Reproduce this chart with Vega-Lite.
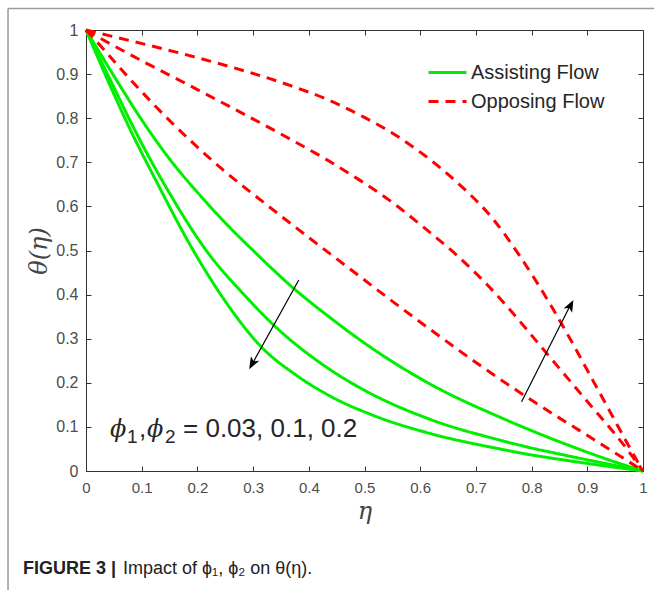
{
  "$schema": "https://vega.github.io/schema/vega-lite/v6.json",
  "autosize": {"type": "none"},
  "padding": {"left": 86, "top": 30, "right": 11, "bottom": 119},
  "width": 557,
  "height": 441,
  "background": "white",
  "config": {
    "view": {"stroke": null},
    "font": "Liberation Sans"
  },
  "datasets": {
    "curves": [
      {"flow": "Assisting Flow", "phi": "0.03", "eta": 0, "theta": 1},
      {"flow": "Assisting Flow", "phi": "0.03", "eta": 0.05, "theta": 0.896},
      {"flow": "Assisting Flow", "phi": "0.03", "eta": 0.106, "theta": 0.785},
      {"flow": "Assisting Flow", "phi": "0.03", "eta": 0.159, "theta": 0.693},
      {"flow": "Assisting Flow", "phi": "0.03", "eta": 0.205, "theta": 0.625},
      {"flow": "Assisting Flow", "phi": "0.03", "eta": 0.252, "theta": 0.56},
      {"flow": "Assisting Flow", "phi": "0.03", "eta": 0.3, "theta": 0.5},
      {"flow": "Assisting Flow", "phi": "0.03", "eta": 0.372, "theta": 0.415},
      {"flow": "Assisting Flow", "phi": "0.03", "eta": 0.438, "theta": 0.348},
      {"flow": "Assisting Flow", "phi": "0.03", "eta": 0.5, "theta": 0.29},
      {"flow": "Assisting Flow", "phi": "0.03", "eta": 0.618, "theta": 0.197},
      {"flow": "Assisting Flow", "phi": "0.03", "eta": 0.743, "theta": 0.122},
      {"flow": "Assisting Flow", "phi": "0.03", "eta": 0.797, "theta": 0.093},
      {"flow": "Assisting Flow", "phi": "0.03", "eta": 0.863, "theta": 0.06},
      {"flow": "Assisting Flow", "phi": "0.03", "eta": 0.93, "theta": 0.029},
      {"flow": "Assisting Flow", "phi": "0.03", "eta": 1, "theta": 0},
      {"flow": "Assisting Flow", "phi": "0.1", "eta": 0, "theta": 1},
      {"flow": "Assisting Flow", "phi": "0.1", "eta": 0.05, "theta": 0.87},
      {"flow": "Assisting Flow", "phi": "0.1", "eta": 0.088, "theta": 0.772},
      {"flow": "Assisting Flow", "phi": "0.1", "eta": 0.143, "theta": 0.645},
      {"flow": "Assisting Flow", "phi": "0.1", "eta": 0.223, "theta": 0.488},
      {"flow": "Assisting Flow", "phi": "0.1", "eta": 0.28, "theta": 0.405},
      {"flow": "Assisting Flow", "phi": "0.1", "eta": 0.336, "theta": 0.332},
      {"flow": "Assisting Flow", "phi": "0.1", "eta": 0.438, "theta": 0.23},
      {"flow": "Assisting Flow", "phi": "0.1", "eta": 0.5, "theta": 0.183},
      {"flow": "Assisting Flow", "phi": "0.1", "eta": 0.618, "theta": 0.117},
      {"flow": "Assisting Flow", "phi": "0.1", "eta": 0.743, "theta": 0.07},
      {"flow": "Assisting Flow", "phi": "0.1", "eta": 0.797, "theta": 0.053},
      {"flow": "Assisting Flow", "phi": "0.1", "eta": 0.863, "theta": 0.035},
      {"flow": "Assisting Flow", "phi": "0.1", "eta": 1, "theta": 0},
      {"flow": "Assisting Flow", "phi": "0.2", "eta": 0, "theta": 1},
      {"flow": "Assisting Flow", "phi": "0.2", "eta": 0.05, "theta": 0.855},
      {"flow": "Assisting Flow", "phi": "0.2", "eta": 0.078, "theta": 0.778},
      {"flow": "Assisting Flow", "phi": "0.2", "eta": 0.125, "theta": 0.66},
      {"flow": "Assisting Flow", "phi": "0.2", "eta": 0.189, "theta": 0.508},
      {"flow": "Assisting Flow", "phi": "0.2", "eta": 0.25, "theta": 0.385},
      {"flow": "Assisting Flow", "phi": "0.2", "eta": 0.312, "theta": 0.285},
      {"flow": "Assisting Flow", "phi": "0.2", "eta": 0.38, "theta": 0.215},
      {"flow": "Assisting Flow", "phi": "0.2", "eta": 0.438, "theta": 0.17},
      {"flow": "Assisting Flow", "phi": "0.2", "eta": 0.52, "theta": 0.124},
      {"flow": "Assisting Flow", "phi": "0.2", "eta": 0.618, "theta": 0.085},
      {"flow": "Assisting Flow", "phi": "0.2", "eta": 0.743, "theta": 0.05},
      {"flow": "Assisting Flow", "phi": "0.2", "eta": 0.797, "theta": 0.037},
      {"flow": "Assisting Flow", "phi": "0.2", "eta": 0.863, "theta": 0.024},
      {"flow": "Assisting Flow", "phi": "0.2", "eta": 1, "theta": 0},
      {"flow": "Opposing Flow", "phi": "0.2", "eta": 0, "theta": 1},
      {"flow": "Opposing Flow", "phi": "0.2", "eta": 0.036, "theta": 0.989},
      {"flow": "Opposing Flow", "phi": "0.2", "eta": 0.114, "theta": 0.965},
      {"flow": "Opposing Flow", "phi": "0.2", "eta": 0.221, "theta": 0.93},
      {"flow": "Opposing Flow", "phi": "0.2", "eta": 0.36, "theta": 0.877},
      {"flow": "Opposing Flow", "phi": "0.2", "eta": 0.432, "theta": 0.843},
      {"flow": "Opposing Flow", "phi": "0.2", "eta": 0.498, "theta": 0.803},
      {"flow": "Opposing Flow", "phi": "0.2", "eta": 0.564, "theta": 0.755},
      {"flow": "Opposing Flow", "phi": "0.2", "eta": 0.6, "theta": 0.723},
      {"flow": "Opposing Flow", "phi": "0.2", "eta": 0.671, "theta": 0.649},
      {"flow": "Opposing Flow", "phi": "0.2", "eta": 0.731, "theta": 0.571},
      {"flow": "Opposing Flow", "phi": "0.2", "eta": 0.779, "theta": 0.487},
      {"flow": "Opposing Flow", "phi": "0.2", "eta": 0.833, "theta": 0.379},
      {"flow": "Opposing Flow", "phi": "0.2", "eta": 0.869, "theta": 0.3},
      {"flow": "Opposing Flow", "phi": "0.2", "eta": 0.905, "theta": 0.217},
      {"flow": "Opposing Flow", "phi": "0.2", "eta": 0.941, "theta": 0.134},
      {"flow": "Opposing Flow", "phi": "0.2", "eta": 0.977, "theta": 0.051},
      {"flow": "Opposing Flow", "phi": "0.2", "eta": 1, "theta": 0},
      {"flow": "Opposing Flow", "phi": "0.1", "eta": 0, "theta": 1},
      {"flow": "Opposing Flow", "phi": "0.1", "eta": 0.036, "theta": 0.974},
      {"flow": "Opposing Flow", "phi": "0.1", "eta": 0.108, "theta": 0.925},
      {"flow": "Opposing Flow", "phi": "0.1", "eta": 0.174, "theta": 0.882},
      {"flow": "Opposing Flow", "phi": "0.1", "eta": 0.239, "theta": 0.839},
      {"flow": "Opposing Flow", "phi": "0.1", "eta": 0.366, "theta": 0.753},
      {"flow": "Opposing Flow", "phi": "0.1", "eta": 0.432, "theta": 0.706},
      {"flow": "Opposing Flow", "phi": "0.1", "eta": 0.492, "theta": 0.659},
      {"flow": "Opposing Flow", "phi": "0.1", "eta": 0.552, "theta": 0.607},
      {"flow": "Opposing Flow", "phi": "0.1", "eta": 0.6, "theta": 0.559},
      {"flow": "Opposing Flow", "phi": "0.1", "eta": 0.665, "theta": 0.49},
      {"flow": "Opposing Flow", "phi": "0.1", "eta": 0.719, "theta": 0.424},
      {"flow": "Opposing Flow", "phi": "0.1", "eta": 0.767, "theta": 0.357},
      {"flow": "Opposing Flow", "phi": "0.1", "eta": 0.803, "theta": 0.303},
      {"flow": "Opposing Flow", "phi": "0.1", "eta": 0.833, "theta": 0.258},
      {"flow": "Opposing Flow", "phi": "0.1", "eta": 0.893, "theta": 0.168},
      {"flow": "Opposing Flow", "phi": "0.1", "eta": 0.971, "theta": 0.05},
      {"flow": "Opposing Flow", "phi": "0.1", "eta": 1, "theta": 0},
      {"flow": "Opposing Flow", "phi": "0.03", "eta": 0, "theta": 1},
      {"flow": "Opposing Flow", "phi": "0.03", "eta": 0.024, "theta": 0.967},
      {"flow": "Opposing Flow", "phi": "0.03", "eta": 0.078, "theta": 0.89},
      {"flow": "Opposing Flow", "phi": "0.03", "eta": 0.138, "theta": 0.81},
      {"flow": "Opposing Flow", "phi": "0.03", "eta": 0.191, "theta": 0.745},
      {"flow": "Opposing Flow", "phi": "0.03", "eta": 0.243, "theta": 0.686},
      {"flow": "Opposing Flow", "phi": "0.03", "eta": 0.324, "theta": 0.604},
      {"flow": "Opposing Flow", "phi": "0.03", "eta": 0.474, "theta": 0.458},
      {"flow": "Opposing Flow", "phi": "0.03", "eta": 0.552, "theta": 0.383},
      {"flow": "Opposing Flow", "phi": "0.03", "eta": 0.618, "theta": 0.321},
      {"flow": "Opposing Flow", "phi": "0.03", "eta": 0.689, "theta": 0.256},
      {"flow": "Opposing Flow", "phi": "0.03", "eta": 0.773, "theta": 0.183},
      {"flow": "Opposing Flow", "phi": "0.03", "eta": 0.803, "theta": 0.158},
      {"flow": "Opposing Flow", "phi": "0.03", "eta": 0.911, "theta": 0.072},
      {"flow": "Opposing Flow", "phi": "0.03", "eta": 0.971, "theta": 0.024},
      {"flow": "Opposing Flow", "phi": "0.03", "eta": 1, "theta": 0}
    ],
    "one": [{}]
  },
  "data": {"name": "curves"},
  "resolve": {"axis": {"x": "independent", "y": "independent"}},
  "layer": [
    {
      "mark": {"type": "line", "strokeWidth": 3, "interpolate": "monotone"},
      "encoding": {
        "x": {
          "field": "eta", "type": "quantitative",
          "scale": {"domain": [0, 1], "nice": false, "zero": false},
          "axis": {
            "orient": "bottom", "values": [0, 0.1, 0.2, 0.3, 0.4, 0.5, 0.6, 0.7, 0.8, 0.9, 1],
            "format": "~g", "grid": false, "tickSize": -5, "labelPadding": 14,
            "labelFontSize": 15, "labelColor": "#4d4d4d", "tickColor": "#333333",
            "domainColor": "#333333", "labelFlush": false,
            "title": "η", "titleFont": "DejaVu Serif", "titleFontStyle": "italic",
            "titleFontWeight": "normal", "titleFontSize": 24, "titleColor": "#444444", "titlePadding": 4
          }
        },
        "y": {
          "field": "theta", "type": "quantitative",
          "scale": {"domain": [0, 1], "nice": false, "zero": false},
          "axis": {
            "orient": "left", "values": [0, 0.1, 0.2, 0.3, 0.4, 0.5, 0.6, 0.7, 0.8, 0.9, 1],
            "format": "~g", "grid": false, "tickSize": -5, "labelPadding": 13,
            "labelFontSize": 16, "labelColor": "#4d4d4d", "tickColor": "#333333",
            "domainColor": "#333333", "labelFlush": false,
            "title": "θ(η)", "titleFont": "DejaVu Serif", "titleFontStyle": "italic",
            "titleFontWeight": "normal", "titleFontSize": 24, "titleColor": "#444444", "titlePadding": 4
          }
        },
        "color": {
          "field": "flow", "type": "nominal",
          "scale": {"domain": ["Assisting Flow", "Opposing Flow"], "range": ["#00ee00", "#ff0000"]},
          "legend": {
            "orient": "none", "legendX": 350.5, "legendY": 31.5, "title": null,
            "symbolType": "M-2,0H2", "symbolSize": 361, "symbolStrokeWidth": 3,
            "labelFontSize": 20, "labelColor": "#262626", "labelOffset": 12.5,
            "rowPadding": 8, "padding": 0
          }
        },
        "strokeDash": {
          "field": "flow", "type": "nominal",
          "scale": {"domain": ["Assisting Flow", "Opposing Flow"], "range": [[1, 0], [10, 7]]},
          "legend": {
            "orient": "none", "legendX": 350.5, "legendY": 31.5, "title": null,
            "symbolType": "M-2,0H2", "symbolSize": 361, "symbolStrokeWidth": 3,
            "labelFontSize": 20, "labelColor": "#262626", "labelOffset": 12.5,
            "rowPadding": 8, "padding": 0
          }
        },
        "detail": {"field": "phi", "type": "nominal"},
        "order": {"field": "eta", "type": "quantitative"}
      }
    },
    {
      "mark": {"type": "point", "opacity": 0},
      "encoding": {
        "x": {
          "field": "eta", "type": "quantitative",
          "scale": {"domain": [0, 1], "nice": false, "zero": false},
          "axis": {
            "orient": "top", "values": [0, 0.1, 0.2, 0.3, 0.4, 0.5, 0.6, 0.7, 0.8, 0.9, 1],
            "labels": false, "grid": false, "tickSize": -5, "title": null,
            "tickColor": "#333333", "domainColor": "#333333"
          }
        },
        "y": {
          "field": "theta", "type": "quantitative",
          "scale": {"domain": [0, 1], "nice": false, "zero": false},
          "axis": {
            "orient": "right", "values": [0, 0.1, 0.2, 0.3, 0.4, 0.5, 0.6, 0.7, 0.8, 0.9, 1],
            "labels": false, "grid": false, "tickSize": -5, "title": null,
            "tickColor": "#333333", "domainColor": "#333333"
          }
        }
      }
    },
    {
      "data": {"name": "one"},
      "mark": {"type": "rule", "color": "black", "strokeWidth": 1.2},
      "encoding": {
        "x": {"datum": 0.382, "type": "quantitative", "scale": {"domain": [0, 1]}, "axis": null},
        "y": {"datum": 0.433, "type": "quantitative", "scale": {"domain": [0, 1]}, "axis": null},
        "x2": {"datum": 0.296},
        "y2": {"datum": 0.237}
      }
    },
    {
      "data": {"name": "one"},
      "mark": {"type": "rule", "color": "black", "strokeWidth": 1.2},
      "encoding": {
        "x": {"datum": 0.782, "type": "quantitative", "scale": {"domain": [0, 1]}, "axis": null},
        "y": {"datum": 0.157, "type": "quantitative", "scale": {"domain": [0, 1]}, "axis": null},
        "x2": {"datum": 0.872},
        "y2": {"datum": 0.382}
      }
    },
    {
      "data": {"name": "one"},
      "mark": {"type": "point", "shape": "M0,0L-0.55,1.4L0,1.05L0.55,1.4Z", "filled": true, "color": "black", "opacity": 1, "size": 300, "angle": 209.2},
      "encoding": {
        "x": {"datum": 0.293, "type": "quantitative", "scale": {"domain": [0, 1]}, "axis": null},
        "y": {"datum": 0.231, "type": "quantitative", "scale": {"domain": [0, 1]}, "axis": null}
      }
    },
    {
      "data": {"name": "one"},
      "mark": {"type": "point", "shape": "M0,0L-0.55,1.4L0,1.05L0.55,1.4Z", "filled": true, "color": "black", "opacity": 1, "size": 300, "angle": 26.9},
      "encoding": {
        "x": {"datum": 0.875, "type": "quantitative", "scale": {"domain": [0, 1]}, "axis": null},
        "y": {"datum": 0.388, "type": "quantitative", "scale": {"domain": [0, 1]}, "axis": null}
      }
    },
    {
      "data": {"name": "one"},
      "mark": {"type": "text", "text": "ϕ", "font": "DejaVu Serif", "fontStyle": "italic", "fontSize": 24, "align": "left", "baseline": "alphabetic", "color": "#262626"},
      "encoding": {
        "x": {"datum": 0.0431, "type": "quantitative", "scale": {"domain": [0, 1]}, "axis": null},
        "y": {"datum": 0.0771, "type": "quantitative", "scale": {"domain": [0, 1]}, "axis": null}
      }
    },
    {
      "data": {"name": "one"},
      "mark": {"type": "text", "text": "1", "fontSize": 19, "align": "left", "baseline": "alphabetic", "color": "#262626"},
      "encoding": {
        "x": {"datum": 0.0736, "type": "quantitative", "scale": {"domain": [0, 1]}, "axis": null},
        "y": {"datum": 0.0635, "type": "quantitative", "scale": {"domain": [0, 1]}, "axis": null}
      }
    },
    {
      "data": {"name": "one"},
      "mark": {"type": "text", "text": ",", "fontSize": 26, "align": "left", "baseline": "alphabetic", "color": "#262626"},
      "encoding": {
        "x": {"datum": 0.0952, "type": "quantitative", "scale": {"domain": [0, 1]}, "axis": null},
        "y": {"datum": 0.0771, "type": "quantitative", "scale": {"domain": [0, 1]}, "axis": null}
      }
    },
    {
      "data": {"name": "one"},
      "mark": {"type": "text", "text": "ϕ", "font": "DejaVu Serif", "fontStyle": "italic", "fontSize": 24, "align": "left", "baseline": "alphabetic", "color": "#262626"},
      "encoding": {
        "x": {"datum": 0.1095, "type": "quantitative", "scale": {"domain": [0, 1]}, "axis": null},
        "y": {"datum": 0.0771, "type": "quantitative", "scale": {"domain": [0, 1]}, "axis": null}
      }
    },
    {
      "data": {"name": "one"},
      "mark": {"type": "text", "text": "2", "fontSize": 19, "align": "left", "baseline": "alphabetic", "color": "#262626"},
      "encoding": {
        "x": {"datum": 0.1418, "type": "quantitative", "scale": {"domain": [0, 1]}, "axis": null},
        "y": {"datum": 0.0635, "type": "quantitative", "scale": {"domain": [0, 1]}, "axis": null}
      }
    },
    {
      "data": {"name": "one"},
      "mark": {"type": "text", "text": "= 0.03, 0.1, 0.2", "fontSize": 26, "align": "left", "baseline": "alphabetic", "color": "#262626"},
      "encoding": {
        "x": {"datum": 0.1742, "type": "quantitative", "scale": {"domain": [0, 1]}, "axis": null},
        "y": {"datum": 0.0771, "type": "quantitative", "scale": {"domain": [0, 1]}, "axis": null}
      }
    },
    {
      "data": {"name": "one"},
      "mark": {"type": "rule", "color": "#9a9a9a", "strokeWidth": 1.5},
      "encoding": {
        "x": {"datum": -0.14, "type": "quantitative", "scale": {"domain": [0, 1]}, "axis": null},
        "y": {"datum": 1.0488, "type": "quantitative", "scale": {"domain": [0, 1]}, "axis": null},
        "x2": {"datum": 1.05}
      }
    },
    {
      "data": {"name": "one"},
      "mark": {"type": "rule", "color": "#9a9a9a", "strokeWidth": 1.5},
      "encoding": {
        "x": {"datum": -0.14, "type": "quantitative", "scale": {"domain": [0, 1]}, "axis": null},
        "y": {"datum": 1.0488, "type": "quantitative", "scale": {"domain": [0, 1]}, "axis": null},
        "y2": {"datum": -0.3}
      }
    },
    {
      "data": {"name": "one"},
      "mark": {"type": "text", "text": "FIGURE 3 |", "fontSize": 18, "fontWeight": "bold", "align": "left", "baseline": "alphabetic", "color": "#222222"},
      "encoding": {
        "x": {"datum": -0.113, "type": "quantitative", "scale": {"domain": [0, 1]}, "axis": null},
        "y": {"datum": -0.2336, "type": "quantitative", "scale": {"domain": [0, 1]}, "axis": null}
      }
    },
    {
      "data": {"name": "one"},
      "mark": {"type": "text", "text": "Impact of ϕ₁, ϕ₂ on θ(η).", "fontSize": 18, "align": "left", "baseline": "alphabetic", "color": "#222222"},
      "encoding": {
        "x": {"datum": 0.0664, "type": "quantitative", "scale": {"domain": [0, 1]}, "axis": null},
        "y": {"datum": -0.2336, "type": "quantitative", "scale": {"domain": [0, 1]}, "axis": null}
      }
    }
  ]
}
